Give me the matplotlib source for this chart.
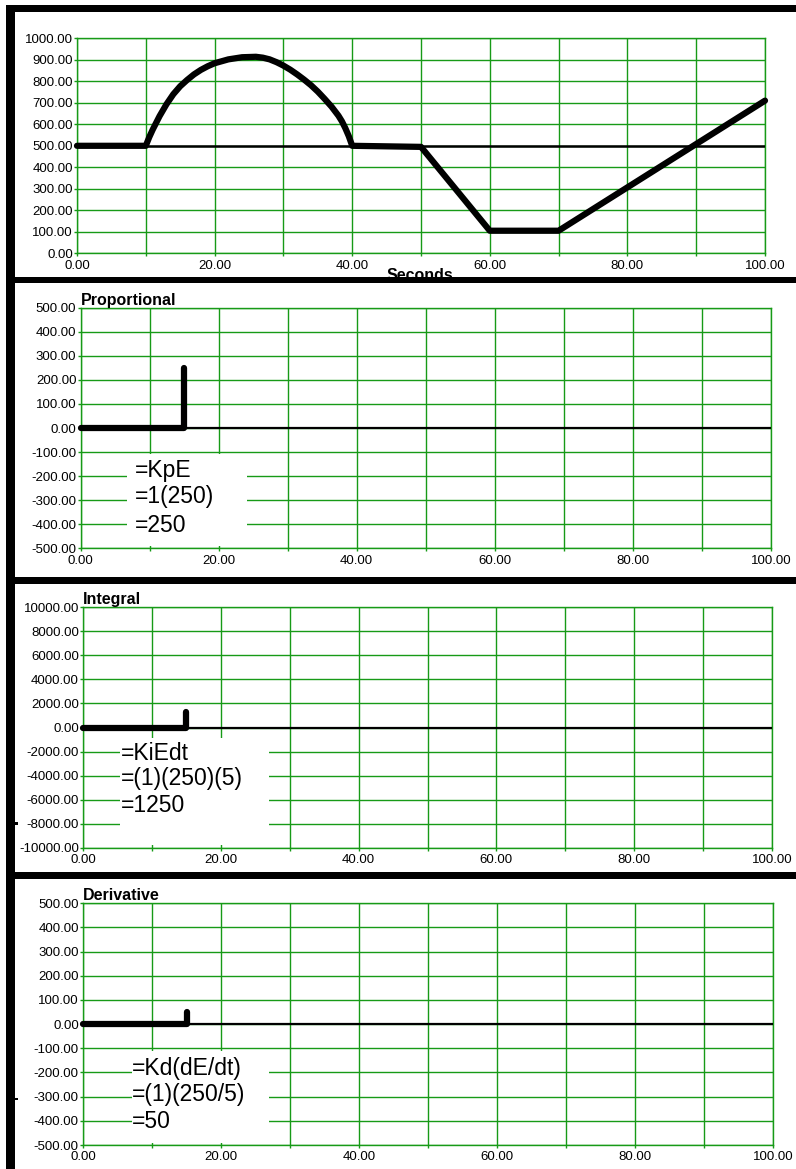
import matplotlib.pyplot as plt
from matplotlib.patches import Rectangle
from matplotlib.ticker import MultipleLocator, FuncFormatter

# process value vs setpoint (top panel)
t_pv = [0, 10, 10.5, 11, 12, 13, 14, 15, 16, 17, 18, 19, 20, 22, 24, 26, 27, 28, 29, 30, 31, 32, 33, 34, 35,
        36, 37, 38, 38.5, 39, 39.5, 40, 50, 60, 70, 100]
pv = [500, 500, 540, 575, 638, 693, 740, 777, 806, 832, 853, 870, 884, 902, 912, 914, 910, 902, 889, 873, 854,
      832, 808, 782, 752, 718, 682, 640, 614, 582, 545, 500, 495, 105, 105, 710]
t_sp = [0, 100]
sp = [500, 500]

# controller terms after the first 5 seconds of error
t_step = [0, 15, 15]
p_out = [0, 0, 250]
i_out = [0, 0, 1250]
d_out = [0, 0, 50]
t_zero = [0, 100]
zero = [0, 0]

titles = ["Proportional", "Integral", "Derivative"]
notes = [["=KpE", "=1(250)", "=250"],
         ["=KiEdt", "=(1)(250)(5)", "=1250"],
         ["=Kd(dE/dt)", "=(1)(250/5)", "=50"]]

W, H = 796, 1169
GREEN = "#179a17"
plt.rcParams["font.family"] = ["Liberation Sans", "DejaVu Sans"]


def px_rect(left, top, right, bottom):
    return [left / W, 1 - bottom / H, (right - left) / W, (bottom - top) / H]


def style(ax, ymin, ymax, ystep):
    ax.set_xlim(0, 100)
    ax.set_ylim(ymin, ymax)
    ax.xaxis.set_major_locator(MultipleLocator(10))
    ax.yaxis.set_major_locator(MultipleLocator(ystep))
    ax.xaxis.set_major_formatter(
        FuncFormatter(lambda v, p: f"{round(v, 6) + 0.0:.2f}" if round(v) % 20 == 0 else ""))
    ax.yaxis.set_major_formatter(FuncFormatter(lambda v, p: f"{round(v, 6) + 0.0:.2f}"))
    ax.grid(True, color=GREEN, lw=1.0)
    ax.set_axisbelow(True)
    for s in ax.spines.values():
        s.set_color(GREEN)
        s.set_linewidth(1.0)
    ax.tick_params(colors=GREEN, labelcolor="black", length=2.5, width=1, labelsize=9.5)
    ax.tick_params(axis="y", pad=0.5)
    ax.tick_params(axis="x", pad=2)


def thick(ax, x, y):
    ax.plot(x, y, color="black", lw=4.5, solid_capstyle="round", solid_joinstyle="round",
            clip_on=False, zorder=4)


fig = plt.figure(figsize=(W / 100, H / 100), dpi=100)

ax1 = fig.add_axes(px_rect(77, 38.3, 765, 253.3))
style(ax1, 0, 1000, 100)
ax1.plot(t_sp, sp, color="black", lw=1.8, zorder=3)
thick(ax1, t_pv, pv)

boxes = [
    (px_rect(80.5, 307.7, 771, 548.3), -500, 500, 100, (6.7, -490, 17.4, 380)),
    (px_rect(83, 607.3, 772, 847.7), -10000, 10000, 2000, (5.4, -9800, 21.6, 8900)),
    (px_rect(83, 903.3, 773, 1145), -500, 500, 100, (7.1, -490, 19.9, 380)),
]
series = [p_out, i_out, d_out]
note_pos = [(135, [471, 497, 525]), (121, [753, 779, 806]), (132, [1068, 1095, 1122])]

for (rect, lo, hi, step, wb), vals, title, lines, (nx, nys) in zip(boxes, series, titles, notes, note_pos):
    ax = fig.add_axes(rect)
    style(ax, lo, hi, step)
    ax.add_patch(Rectangle((wb[0], wb[1]), wb[2], wb[3], facecolor="white", edgecolor="none", zorder=1))
    ax.plot(t_zero, zero, color="black", lw=1.6, zorder=3)
    thick(ax, t_step, vals)
    ax.set_title(title, loc="left", fontsize=11.5, fontweight="bold", pad=1, x=0.0)
    for s, ny in zip(lines, nys):
        fig.text(nx / W, 1 - ny / H, s, ha="left", va="center", fontsize=16.5)

fig.text(420 / W, 1 - 276 / H, "Seconds", ha="center", va="center", fontsize=11.5, fontweight="bold", zorder=2)

# black frame bars
bars = [(6, 5, 15, H), (6, 5, W, 12), (6, 277, W, 283), (6, 577, W, 584), (6, 872, W, 879),
        (15, 822, 18, 825), (15, 1098, 18, 1100)]
for l, t, r, b in bars:
    fig.add_artist(Rectangle((l / W, 1 - b / H), (r - l) / W, (b - t) / H, transform=fig.transFigure,
                             facecolor="black", edgecolor="none", zorder=5))

fig.savefig("out.png", dpi=100, facecolor="white")
